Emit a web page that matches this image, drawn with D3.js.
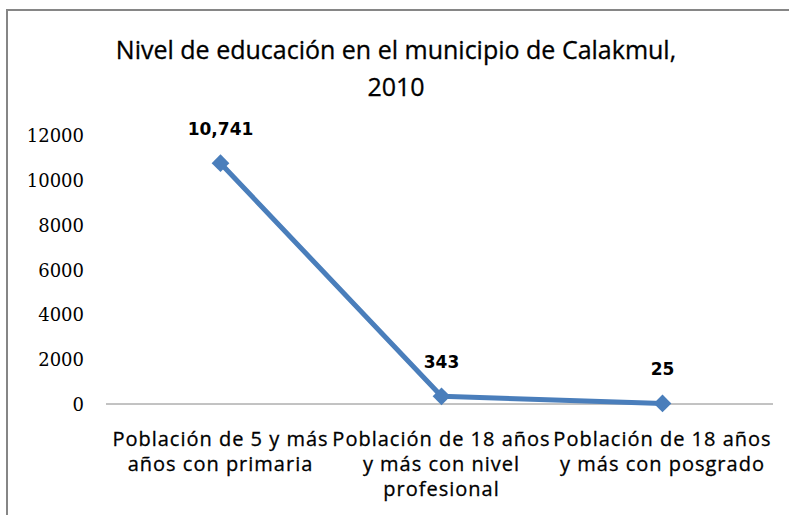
<!DOCTYPE html>
<html>
<head>
<meta charset="utf-8">
<script src="https://cdn.jsdelivr.net/npm/d3@7"></script>
<style>
  body { margin: 0; background: #fff; }
</style>
</head>
<body>
<div id="chart"></div>
<script>
const categories = [
    ["Población de 5 y más", "años con primaria"],
    ["Población de 18 años", "y más con nivel", "profesional"],
    ["Población de 18 años", "y más con posgrado"]
];
const values = [10741, 343, 25];
const valueLabels = ["10,741", "343", "25"];
const yTicks = [0, 2000, 4000, 6000, 8000, 10000, 12000];

const width = 789, height = 515;
const margin = { left: 110, right: 16, top: 135, bottom: 111 };

const svg = d3.select("#chart")
    .append("svg")
    .attr("width", width)
    .attr("height", height);

// frame
svg.append("rect")
    .attr("x", 7)
    .attr("y", 10)
    .attr("width", width)
    .attr("height", height)
    .attr("fill", "none")
    .attr("stroke", "#868686")
    .attr("stroke-width", 2);

// title
svg.append("text")
    .attr("font-family", "'Open Sans', sans-serif")
    .attr("font-size", 25)
    .attr("text-anchor", "middle")
    .attr("fill", "#000")
    .attr("stroke", "#000")
    .attr("stroke-width", 0.3)
    .selectAll("tspan")
    .data(["Nivel de educación en el municipio de Calakmul,", "2010"])
    .enter()
    .append("tspan")
    .attr("x", 396)
    .attr("y", (d, i) => 59 + i * 37)
    .text(d => d);

const x = d3.scaleBand()
    .domain(d3.range(values.length))
    .range([margin.left, width - margin.right]);

const y = d3.scaleLinear()
    .domain([0, 12000])
    .range([height - margin.bottom, margin.top]);

// y axis labels
svg.append("g")
    .selectAll("text")
    .data(yTicks)
    .enter()
    .append("text")
    .attr("x", 84)
    .attr("y", d => y(d) + 7)
    .attr("text-anchor", "end")
    .attr("font-family", "'DejaVu Serif', serif")
    .attr("font-size", 18)
    .text(d => d);

// x axis line
svg.append("line")
    .attr("x1", margin.left - 4)
    .attr("x2", width - margin.right)
    .attr("y1", y(0))
    .attr("y2", y(0))
    .attr("stroke", "#868686")
    .attr("stroke-width", 1);

// category labels
svg.append("g")
    .selectAll("text")
    .data(categories)
    .enter()
    .append("text")
    .attr("font-family", "'Open Sans', sans-serif")
    .attr("font-size", 20)
    .attr("letter-spacing", 1)
    .attr("stroke", "#000")
    .attr("stroke-width", 0.3)
    .attr("text-anchor", "middle")
    .each(function (d, i) {
        d3.select(this).selectAll("tspan")
            .data(d)
            .enter()
            .append("tspan")
            .attr("x", x(i) + x.bandwidth() / 2)
            .attr("y", (t, j) => 446 + j * 25)
            .text(t => t);
    });

// line
const line = d3.line()
    .x((d, i) => x(i) + x.bandwidth() / 2)
    .y(d => y(d));

svg.append("path")
    .datum(values)
    .attr("d", line)
    .attr("fill", "none")
    .attr("stroke", "#4a7ebb")
    .attr("stroke-width", 5)
    .attr("stroke-linejoin", "round");

// diamond markers
svg.append("g")
    .selectAll("path")
    .data(values)
    .enter()
    .append("path")
    .attr("d", d3.symbol().type(d3.symbolDiamond2).size(200))
    .attr("transform", (d, i) => `translate(${x(i) + x.bandwidth() / 2},${y(d)})`)
    .attr("fill", "#4a7ebb");

// data labels
svg.append("g")
    .selectAll("text")
    .data(values)
    .enter()
    .append("text")
    .attr("x", (d, i) => x(i) + x.bandwidth() / 2)
    .attr("y", d => y(d) - 28)
    .attr("text-anchor", "middle")
    .attr("font-family", "'DejaVu Sans', sans-serif")
    .attr("font-weight", "bold")
    .attr("font-size", 17)
    .text((d, i) => valueLabels[i]);
</script>
</body>
</html>
